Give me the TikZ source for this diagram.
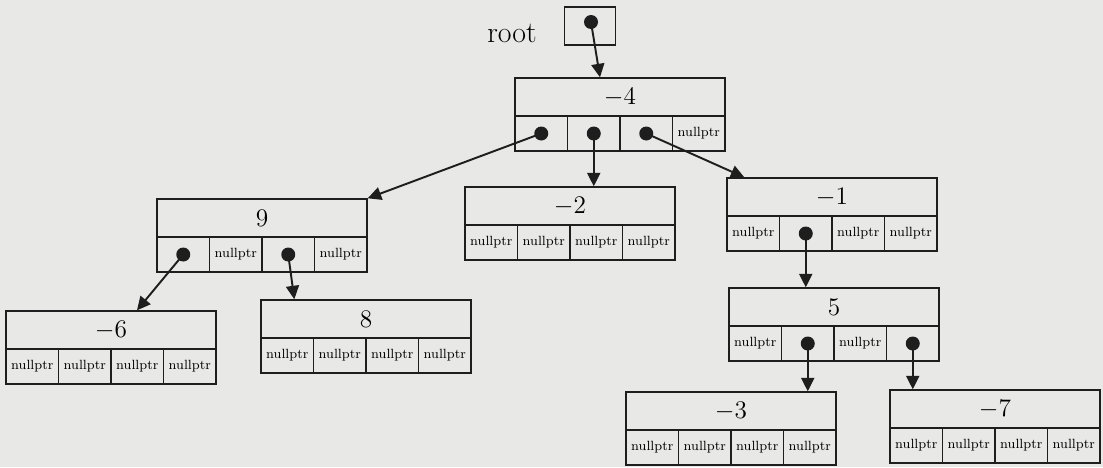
\documentclass[tikz,border=0pt]{standalone}
\usepackage{amsmath}
\usepackage{tikz}
\usetikzlibrary{arrows.meta}
\definecolor{paper}{RGB}{232,232,230}
\definecolor{ink}{RGB}{30,30,30}
\tikzstyle{valbox}=[
        draw=ink,
        line width=0.8pt,
        minimum width=4.2cm,
        minimum height=0.76cm,
        inner sep=0pt,
        font=\fontsize{15}{18}\selectfont
]
\tikzstyle{cellbox}=[
        draw=ink,
        line width=0.8pt,
        minimum width=1.05cm,
        minimum height=0.7cm,
        inner sep=0pt,
        font=\fontsize{7.6}{9}\selectfont
]
\tikzstyle{pointer}=[
        circle,
        fill=ink,
        inner sep=0pt,
        minimum size=0.28cm
]
\tikzstyle{link}=[
        draw=ink,
        line width=1.1pt,
        -{Triangle[length=0.27cm,width=0.26cm]}
]

\begin{document}
\begin{tikzpicture}[x=0.02cm,y=-0.02cm]
                    \fill[paper] (0,0) rectangle (1103,467);
                    \useasboundingbox (0,0) rectangle (1103,467);

                    % root pointer
                    \node[font=\fontsize{17}{20}\selectfont] (rootlbl) at (512,33) {root};
                    \node[cellbox, minimum width=1.02cm, minimum height=0.76cm] (rootbox) at (590,26) {};
                    \node[pointer] (rootd) at (591,22) {};

                    % -4
                    \node[valbox] (m4) at (620,97) {$-4$};
                    \foreach \i/\t in {1/,2/,3/,4/nullptr}
                        \node[cellbox] (m4c\i) at (515+52.5*\i-26.25,133.5) {\t};

                    % 9
                    \node[valbox] (p9) at (262,218) {$9$};
                    \foreach \i/\t in {1/,2/nullptr,3/,4/nullptr}
                        \node[cellbox] (p9c\i) at (157+52.5*\i-26.25,254.5) {\t};

                    % -2
                    \node[valbox] (m2) at (570,206) {$-2$};
                    \foreach \i in {1,...,4}
                        \node[cellbox] (m2c\i) at (465+52.5*\i-26.25,242.5) {nullptr};

                    % -1
                    \node[valbox] (m1) at (832,197) {$-1$};
                    \foreach \i/\t in {1/nullptr,2/,3/nullptr,4/nullptr}
                        \node[cellbox] (m1c\i) at (727+52.5*\i-26.25,233.5) {\t};

                    % 5
                    \node[valbox] (p5) at (834,307) {$5$};
                    \foreach \i/\t in {1/nullptr,2/,3/nullptr,4/}
                        \node[cellbox] (p5c\i) at (729+52.5*\i-26.25,343.5) {\t};

                    % -6
                    \node[valbox] (m6) at (111,330) {$-6$};
                    \foreach \i in {1,...,4}
                        \node[cellbox] (m6c\i) at (6+52.5*\i-26.25,366.5) {nullptr};

                    % 8
                    \node[valbox] (p8) at (366,319) {$8$};
                    \foreach \i in {1,...,4}
                        \node[cellbox] (p8c\i) at (261+52.5*\i-26.25,355.5) {nullptr};

                    % -3
                    \node[valbox] (m3) at (731,411) {$-3$};
                    \foreach \i in {1,...,4}
                        \node[cellbox] (m3c\i) at (626+52.5*\i-26.25,447.5) {nullptr};

                    % -7
                    \node[valbox] (m7) at (995,409) {$-7$};
                    \foreach \i in {1,...,4}
                        \node[cellbox] (m7c\i) at (890+52.5*\i-26.25,445.5) {nullptr};

                    % pointer dots
                    \node[pointer] (m4d1) at (m4c1) {};
                    \node[pointer] (m4d2) at (m4c2) {};
                    \node[pointer] (m4d3) at (m4c3) {};
                    \node[pointer] (p9d1) at (p9c1) {};
                    \node[pointer] (p9d3) at (p9c3) {};
                    \node[pointer] (m1d2) at (m1c2) {};
                    \node[pointer] (p5d2) at (p5c2) {};
                    \node[pointer] (p5d4) at (p5c4) {};

                    % links
                    \draw[link] (rootd.center) -- ([xshift=-0.4cm]m4.north);
                    \draw[link] (m4d1.center) -- (p9.north east);
                    \draw[link] (m4d2.center) -- (m4d2 |- m2.north);
                    \draw[link] (m4d3.center) -- ([xshift=0.36cm]m1.north west);
                    \draw[link] (p9d1.center) -- ([xshift=0.52cm]m6.north);
                    \draw[link] (p9d3.center) -- ([xshift=0.68cm]p8.north west);
                    \draw[link] (m1d2.center) -- (m1d2 |- p5.north);
                    \draw[link] (p5d2.center) -- (p5d2 |- m3.north);
                    \draw[link] (p5d4.center) -- (p5d4 |- m7.north);

                \end{tikzpicture}
\end{document}
